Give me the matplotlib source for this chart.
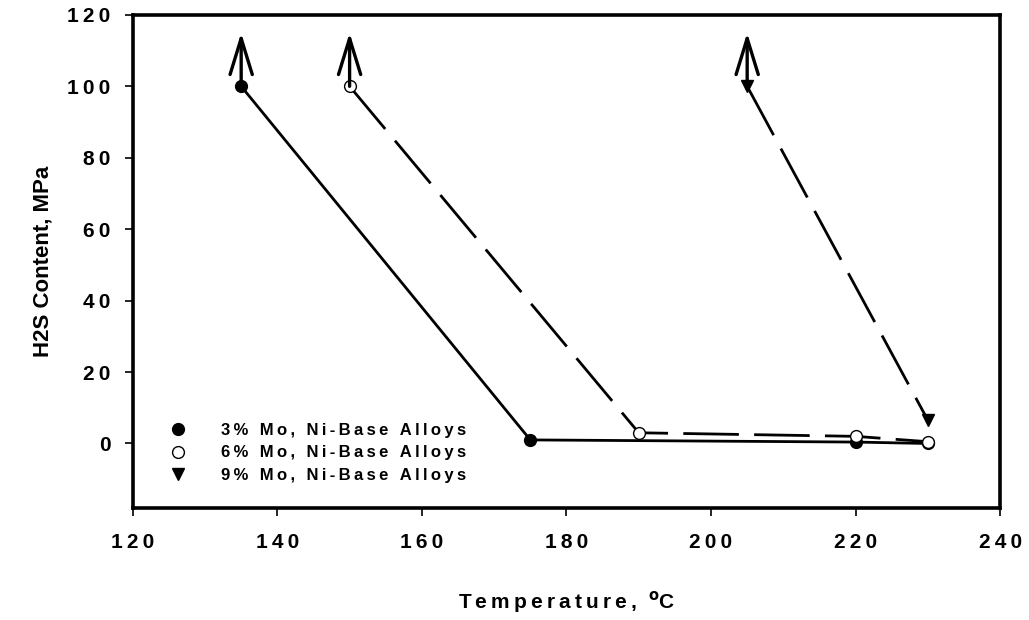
import matplotlib.pyplot as plt

plt.rcParams['font.family'] = ['Liberation Sans', 'DejaVu Sans']

# data
t_3mo = [135, 175, 220, 230]
h2s_3mo = [100, 1, 0.4, 0]
t_6mo = [150, 190, 220, 230]
h2s_6mo = [100, 3, 2, 0.5]
t_9mo = [205, 230]
h2s_9mo = [100, 6.5]

# points that carry an upward arrow
arrow_t = [135, 150, 205]
arrow_from = [100, 100, 100]
arrow_to = [115, 115, 115]

labels = ['3% Mo, Ni-Base Alloys', '6% Mo, Ni-Base Alloys', '9% Mo, Ni-Base Alloys']
xticks = [120, 140, 160, 180, 200, 220, 240]
yticks = [0, 20, 40, 60, 80, 100, 120]


def spaced(s):
    # mimic the wide letter spacing of the original with thin spaces
    return '\u2009'.join(s)


fig = plt.figure(figsize=(10.29, 6.2), dpi=100)
ax = fig.add_axes([0.129, 0.181, 0.843, 0.795])

ax.plot(t_3mo, h2s_3mo, '-', color='black', lw=2.0, marker='o', ms=8.5,
        mfc='black', mec='black', label=spaced(labels[0]))
ax.plot(t_6mo, h2s_6mo, color='black', lw=2.0, dashes=(20, 5.5), marker='o', ms=8.5,
        mfc='white', mec='black', label=spaced(labels[1]))
ax.plot(t_9mo, h2s_9mo, color='black', lw=2.0, dashes=(20, 5.5), marker='v', ms=8.5,
        mfc='black', mec='black', label=spaced(labels[2]))

for x, y0, y1 in zip(arrow_t, arrow_from, arrow_to):
    ax.annotate('', xy=(x, y1), xytext=(x, y0),
                arrowprops=dict(arrowstyle='->,head_length=2.6,head_width=0.8',
                                color='black', lw=2.4, shrinkA=0, shrinkB=0))

ax.set_xlim(120, 240)
ax.set_ylim(-18, 120)
ax.set_xticks(xticks)
ax.set_yticks(yticks)
ax.set_xticklabels([spaced(str(v)) for v in xticks])
ax.set_yticklabels([spaced(str(v)) for v in yticks])
ax.tick_params(direction='out', length=6, width=1.2, labelsize=15)
ax.tick_params(axis='x', pad=12)
ax.tick_params(axis='y', pad=10)
for lab in ax.get_xticklabels() + ax.get_yticklabels():
    lab.set_fontweight('bold')
for side in ['left', 'bottom', 'right', 'top']:
    ax.spines[side].set_linewidth(2.6)

ax.set_xlabel(spaced('Temperature,') + '  $^{\\mathbf{o}}$C', fontsize=15,
              fontweight='bold', labelpad=27)
ax.set_ylabel('H2S Content, MPa', fontsize=16, fontweight='bold', labelpad=10)

leg = ax.legend(loc='lower left', bbox_to_anchor=(0.035, 0.02), frameon=False,
                handlelength=0, handletextpad=2.6, labelspacing=0.45,
                prop={'weight': 'bold', 'size': 12})
for h in leg.legend_handles:
    h.set_linestyle('none')

fig.savefig('out.png', dpi=100)
